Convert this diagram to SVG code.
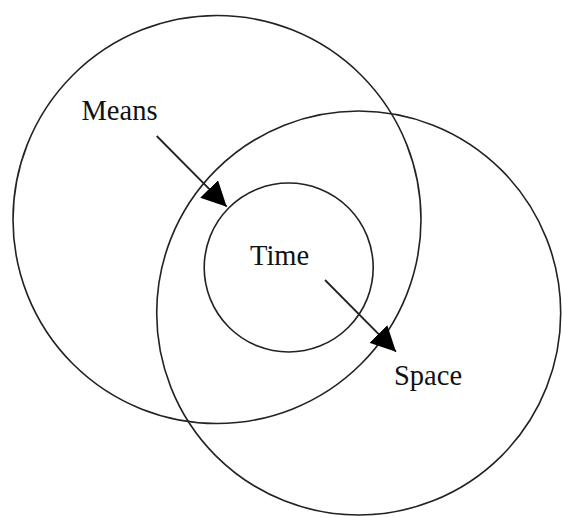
<svg xmlns="http://www.w3.org/2000/svg" width="562" height="517" viewBox="0 0 562 517">
<style>
.ring{fill:none;stroke:#222;stroke-width:1.6}
.conn{stroke:#222;stroke-width:1.8;fill:none}
.lbl{font-family:"Liberation Serif","Times New Roman",serif;font-size:28.5px;fill:#111}
</style>
<defs>
<marker id="head" markerUnits="userSpaceOnUse" markerWidth="25" markerHeight="25" viewBox="0 0 24 24" refX="24" refY="12" orient="auto">
<path d="M0,0 L24,12 L0,24 Z" fill="#000"/>
</marker>
</defs>
<rect width="562" height="517" fill="#fff"/>
<g id="means">
<circle class="ring" cx="217" cy="219.5" r="204"/>
<text class="lbl" x="81.5" y="120">Means</text>
</g>
<g id="space">
<circle class="ring" cx="358.7" cy="313" r="202"/>
<text class="lbl" x="394" y="385">Space</text>
</g>
<g id="time">
<circle class="ring" cx="288.7" cy="267.5" r="84.5"/>
<text class="lbl" x="250" y="265">Time</text>
</g>
<g id="connectors">
<line class="conn" x1="156.7" y1="136" x2="226.7" y2="206.7" marker-end="url(#head)"/>
<line class="conn" x1="325" y1="280" x2="396" y2="351.7" marker-end="url(#head)"/>
</g>
</svg>
